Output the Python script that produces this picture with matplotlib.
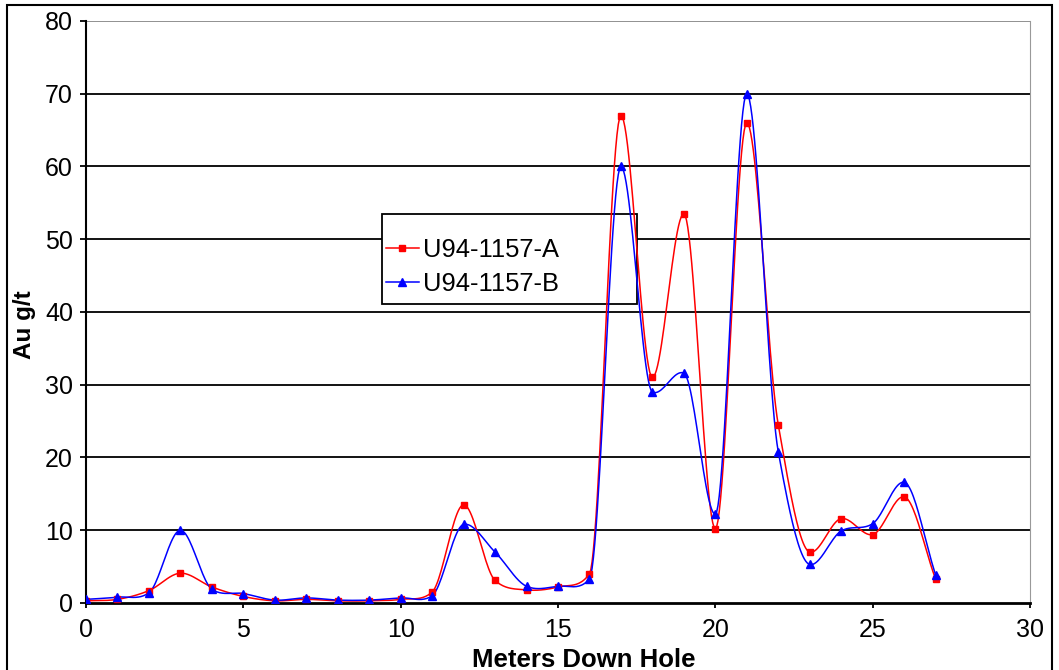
import numpy as np
import matplotlib
matplotlib.use("Agg")
import matplotlib.pyplot as plt
from matplotlib.patches import Rectangle

plt.rcParams["font.family"] = ["Liberation Sans", "DejaVu Sans"]

# Meters down hole and gold grades for the two samples
depth = list(range(28))
au_a = [0.3, 0.5, 1.7, 4.1, 2.2, 0.9, 0.3, 0.5, 0.3, 0.3, 0.5, 1.5, 13.5, 3.1,
        1.8, 2.2, 4.0, 67.0, 31.0, 53.5, 10.2, 66.0, 24.5, 7.0, 11.6, 9.4, 14.6, 3.3]
au_b = [0.5, 0.8, 1.4, 10.0, 1.9, 1.3, 0.4, 0.7, 0.4, 0.4, 0.7, 1.0, 10.8, 7.0,
        2.3, 2.3, 3.3, 60.0, 29.0, 31.6, 12.2, 70.0, 20.8, 5.3, 9.9, 10.9, 16.6, 3.9]

# pixel per data unit, used only to shape the smoothed curve like Excel does
SX, SY = 31.47, 7.275


def smooth(xs, ys, n=25):
    x = np.asarray(xs, float)
    y = np.asarray(ys, float)
    dx = np.diff(x)
    dy = np.diff(y)
    seg = np.column_stack([dx * SX, dy * SY])
    u = seg / np.linalg.norm(seg, axis=1)[:, None]
    slopes = np.zeros(len(x))
    slopes[0] = dy[0] / dx[0]
    slopes[-1] = dy[-1] / dx[-1]
    for i in range(1, len(x) - 1):
        t = u[i - 1] + u[i]
        slopes[i] = (t[1] / SY) / (t[0] / SX)
    t = np.linspace(0, 1, n)
    h00 = 2 * t ** 3 - 3 * t ** 2 + 1
    h10 = t ** 3 - 2 * t ** 2 + t
    h01 = -2 * t ** 3 + 3 * t ** 2
    h11 = t ** 3 - t ** 2
    ox, oy = [], []
    for i in range(len(x) - 1):
        ox.append(x[i] + t * dx[i])
        oy.append(h00 * y[i] + h10 * dx[i] * slopes[i] + h01 * y[i + 1] + h11 * dx[i] * slopes[i + 1])
    return np.concatenate(ox), np.concatenate(oy)


fig = plt.figure(figsize=(10.59, 6.70), dpi=100)
ax = fig.add_axes([0.0812, 0.1, 0.8914, 0.8687])

for vals, col, mk, ms, lab in [(au_a, "#ff0000", "s", 5, "U94-1157-A"),
                               (au_b, "#0000ff", "^", 6, "U94-1157-B")]:
    sx, sy = smooth(depth, vals)
    ax.plot(sx, sy, color=col, lw=1.1, zorder=3)
    ax.plot(depth, vals, ls="none", marker=mk, color=col, ms=ms, zorder=4)
    ax.plot([], [], color=col, lw=1.1, marker=mk, ms=ms, label=lab)

ax.set_xlim(0, 30)
ax.set_ylim(0, 80)
ax.set_xticks(range(0, 31, 5))
ax.set_yticks(range(0, 81, 10))
for yv in range(10, 80, 10):
    ax.axhline(yv, color="black", lw=1.3, zorder=1)
ax.axhline(80, color="#888888", lw=1.3, zorder=1)

ax.spines["left"].set_linewidth(1.5)
ax.spines["bottom"].set_linewidth(2.0)
ax.spines["right"].set_color("#999999")
ax.spines["top"].set_visible(False)
ax.tick_params(direction="out", width=1.3, labelsize=18)
ax.tick_params(axis="x", length=3.6, pad=7)
ax.tick_params(axis="y", length=4.3, pad=5)

ax.set_xlabel("Meters Down Hole", fontsize=18.5, fontweight="bold")
ax.xaxis.set_label_coords(0.527, -0.077)
ax.set_ylabel("Au g/t", fontsize=17.5, fontweight="bold")
ax.yaxis.set_label_coords(-0.053, 0.479)

# legend box sits under the data lines but over the gridlines
ax.add_patch(Rectangle((0.3136, 0.5138), 0.270, 0.1546, transform=ax.transAxes,
                       facecolor="white", edgecolor="black", lw=1.3, zorder=2))
leg = ax.legend(loc="center left", bbox_to_anchor=(0.3178, 0.5773), fontsize=18.4,
                frameon=False, handlelength=1.29, handletextpad=0.15,
                borderpad=0, borderaxespad=0, labelspacing=0.42)
leg.set_zorder(2.5)

fig.add_artist(Rectangle((7 / 1059, -0.05), 1045 / 1059, 1.05 - 5 / 670,
                         transform=fig.transFigure, fill=False,
                         edgecolor="black", lw=1.5))

fig.savefig("out.png", dpi=100)
